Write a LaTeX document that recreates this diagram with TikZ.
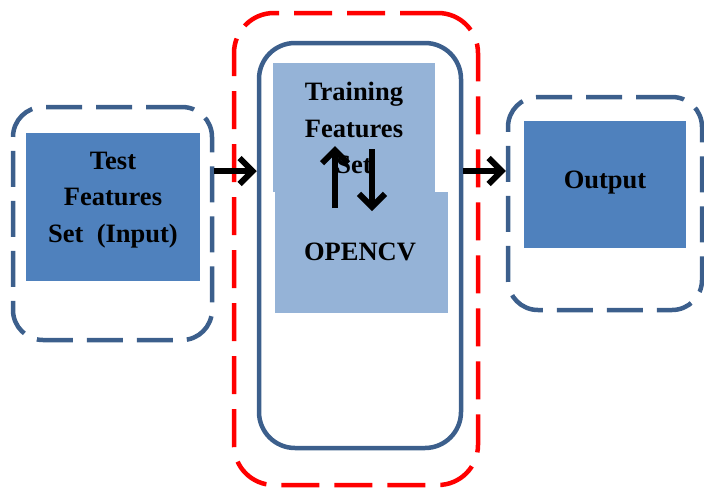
\documentclass[tikz,border=0pt]{standalone}
\usepackage{fontspec}
\setmainfont{Liberation Serif}
\usetikzlibrary{arrows.meta}
\definecolor{edgeblue}{HTML}{3C5F8C}
\definecolor{fillblue}{HTML}{4F81BD}
\definecolor{lightblue}{HTML}{95B3D7}
\tikzset{
  dashbox/.style={draw=edgeblue, line width=4.5pt, rounded corners=30pt, dash pattern=on 36pt off 14pt, minimum width=#1},
  redbox/.style={draw=red, line width=4.5pt, rounded corners=40pt, dash pattern=on 38pt off 15pt},
  solidbox/.style={draw=edgeblue, line width=4.5pt, rounded corners=36pt},
  fillrect/.style={fill=fillblue, inner sep=0pt},
  lightrect/.style={fill=lightblue, inner sep=0pt},
  lbl/.style={font=\fontsize{26.5}{36.5}\selectfont\bfseries, align=center, inner sep=0pt},
  arr/.style={line width=6pt, -{Straight Barb[length=13pt, width=26pt]}}
}
\begin{document}
\begin{tikzpicture}[x=1pt,y=-1pt]
\useasboundingbox (0,0) rectangle (704,488);
% left group
\node[dashbox=199pt, minimum height=233pt] (lbox) at (112.5,223.5) {};
\node[fillrect, minimum width=174pt, minimum height=148pt] (lin) at (113,207) {};
\node[lbl] (ltxt) at (113,200) {Test\\Features\\Set\ \ (Input)};
% middle group
\node[redbox, minimum width=244pt, minimum height=472pt] (red) at (356,249) {};
\node[solidbox, minimum width=202pt, minimum height=405pt] (mid) at (360,245.5) {};
\node[lightrect, minimum width=162pt, minimum height=129pt] (train) at (354,127.5) {};
\node[lightrect, minimum width=173pt, minimum height=121pt] (cv) at (361.5,252.5) {};
\node[lbl] (ttxt) at (354,128) {Training\\Features\\Set};
\node[lbl] (cvtxt) at (360,252) {OPENCV};
% right group
\node[dashbox=194pt, minimum height=213pt] (obox) at (605,203.5) {};
\node[fillrect, minimum width=162pt, minimum height=127pt] (oin) at (605,184.5) {};
\node[lbl] (otxt) at (605,183) {Output};
% arrows
\coordinate (ya) at (0,171);
\coordinate (up1) at (335,208);
\coordinate (up2) at (335,146);
\coordinate (dn1) at (372,149);
\coordinate (dn2) at (372,211);
\draw[arr] (lbox.east |- ya) -- (mid.west |- ya);
\draw[arr] (mid.east |- ya) -- (obox.west |- ya);
\draw[arr] (up1) -- (up2);
\draw[arr] (dn1) -- (dn2);
\end{tikzpicture}
\end{document}
